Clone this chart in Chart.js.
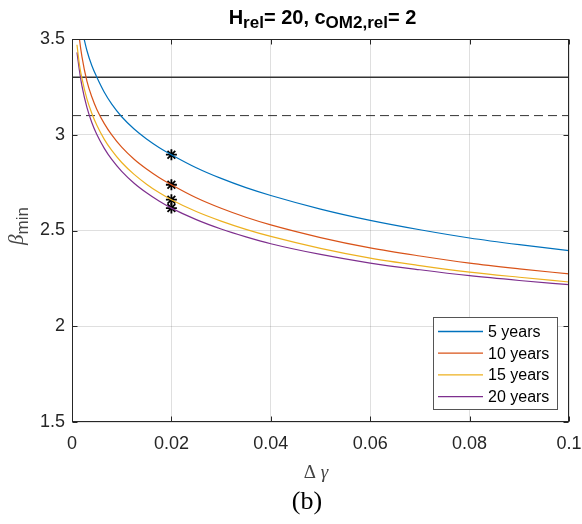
<!DOCTYPE html>
<html><head><meta charset="utf-8">
<script src="https://cdn.jsdelivr.net/npm/chart.js@4/dist/chart.umd.min.js"></script>
<style>html,body{margin:0;padding:0;background:#fff;}#wrap{position:relative;width:582px;height:524px;}</style>
</head><body><div id="wrap"><canvas id="c" width="582" height="524"></canvas></div>
<script>
// ---- data ----
const dGamma  = [0.001,0.0015,0.002,0.003,0.004,0.005,0.0065,0.008,0.01,0.0125,0.015,0.0175,0.02,0.025,0.03,0.035,0.04,0.05,0.06,0.07,0.08,0.09,0.1];
const beta5y  = [null,null,3.55,3.44,3.36,3.30,3.222,3.160,3.094,3.030,2.978,2.934,2.896,2.828,2.772,2.724,2.683,2.612,2.553,2.504,2.461,2.426,2.395];
const beta10y = [3.63,3.50,3.408,3.280,3.197,3.132,3.058,2.999,2.935,2.872,2.821,2.777,2.739,2.671,2.616,2.569,2.529,2.463,2.409,2.367,2.330,2.300,2.273];
const beta15y = [3.47,3.365,3.294,3.187,3.111,3.049,2.976,2.918,2.855,2.793,2.742,2.698,2.661,2.599,2.549,2.506,2.469,2.407,2.356,2.317,2.283,2.256,2.231];
const beta20y = [3.43,3.335,3.255,3.143,3.063,3.001,2.929,2.871,2.809,2.747,2.697,2.654,2.617,2.557,2.508,2.467,2.431,2.375,2.330,2.295,2.264,2.239,2.217];
const seriesLabels = ['5 years','10 years','15 years','20 years'];
const markerX = 0.02;
const markerBeta = [2.896, 2.739, 2.661, 2.617];
const solidLevel = 3.3;
const dashedLevel = 3.1;
const xTicks = [0,0.02,0.04,0.06,0.08,0.1];
const xTickLabels = ['0','0.02','0.04','0.06','0.08','0.1'];
const yTicks = [1.5,2,2.5,3,3.5];
const yTickLabels = ['1.5','2','2.5','3','3.5'];

// ---- styling ----
const colors = ['#0072BD','#D95319','#EDB120','#7E2F8E'];
const SANS = '"Liberation Sans", Arial, Helvetica, sans-serif';
const SERIF = '"Liberation Serif", "Times New Roman", serif';
const AXC = '#262626';

const series = [beta5y,beta10y,beta15y,beta20y];
const datasets = series.map((vals,k)=>({
  label: seriesLabels[k],
  data: dGamma.map((x,i)=>({x:x,y:vals[i]})).filter(p=>p.y!==null),
  borderColor: colors[k], backgroundColor: colors[k],
  borderWidth: 1.2, pointRadius: 0, cubicInterpolationMode: 'monotone', fill:false
}));
datasets.push({label:'solid', data:[{x:xTicks[0],y:solidLevel},{x:xTicks[xTicks.length-1],y:solidLevel}],
  borderColor:'#333', borderWidth:1.4, pointRadius:0, fill:false});
datasets.push({label:'dashed', data:[{x:xTicks[0],y:dashedLevel},{x:xTicks[xTicks.length-1],y:dashedLevel}],
  borderColor:'#333', borderWidth:1, borderDash:[9,5], pointRadius:0, fill:false});
datasets.push({label:'markers', data:markerBeta.map(y=>({x:markerX,y:y})), showLine:false,
  pointStyle:'star', pointRadius:5.5, borderColor:'#000', backgroundColor:'#000', pointBorderWidth:1.8, borderWidth:1.8});

function drawRich(ctx, parts, cx, baseline){
  let w=0; parts.forEach(p=>{ctx.font=p.f; p.w=ctx.measureText(p.t).width; w+=p.w;});
  let x=cx-w/2;
  parts.forEach(p=>{ctx.font=p.f; ctx.fillText(p.t,x,baseline+(p.dy||0)); x+=p.w;});
}

const decor = {
  id:'decor',
  afterDraw(chart){
    const ctx=chart.ctx, a=chart.chartArea, xs=chart.scales.x, ys=chart.scales.y;
    ctx.save();
    // box
    ctx.strokeStyle=AXC; ctx.lineWidth=1;
    const L0=Math.round(a.left)+0.5, R0=Math.round(a.right)-0.5, T0=Math.round(a.top)+0.5, B0=Math.round(a.bottom)-0.5;
    ctx.strokeRect(L0, T0, R0-L0, B0-T0);
    // inward ticks
    const tl=5;
    ctx.beginPath();
    xTicks.forEach(v=>{const px=Math.round(xs.getPixelForValue(v))+0.5;
      ctx.moveTo(px,B0); ctx.lineTo(px,B0-tl); ctx.moveTo(px,T0); ctx.lineTo(px,T0+tl);});
    yTicks.forEach(v=>{const py=Math.round(ys.getPixelForValue(v))+0.5;
      ctx.moveTo(L0,py); ctx.lineTo(L0+tl,py); ctx.moveTo(R0,py); ctx.lineTo(R0-tl,py);});
    ctx.stroke();

    // legend
    const L={x:a.right-136, y:a.bottom-105, w:124, h:92};
    ctx.fillStyle='#fff'; ctx.fillRect(L.x,L.y,L.w,L.h);
    ctx.strokeStyle='#555'; ctx.lineWidth=1; ctx.strokeRect(L.x+0.5,L.y+0.5,L.w,L.h);
    ctx.font='16px '+SANS; ctx.textBaseline='middle'; ctx.textAlign='left';
    for(let k=0;k<seriesLabels.length;k++){
      const yy=L.y+14.5+k*21.7;
      ctx.strokeStyle=colors[k]; ctx.lineWidth=1.3;
      ctx.beginPath(); ctx.moveTo(L.x+5,yy); ctx.lineTo(L.x+50,yy); ctx.stroke();
      ctx.fillStyle='#000'; ctx.fillText(seriesLabels[k], L.x+55, yy+1);
    }

    // title
    ctx.fillStyle='#000'; ctx.textBaseline='alphabetic'; ctx.textAlign='left';
    const B='bold 20px '+SANS, S='bold 17px '+SANS;
    drawRich(ctx,[{t:'H',f:B},{t:'rel',f:S,dy:4},{t:'= 20, c',f:B},{t:'OM2,rel',f:S,dy:4},{t:'= 2',f:B}], (a.left+a.right)/2+2, 24);

    // y label: beta_min rotated
    ctx.save(); ctx.translate(29,226); ctx.rotate(-Math.PI/2);
    ctx.fillStyle='#444';
    drawRich(ctx,[{t:'β',f:'italic 21px '+SERIF},{t:'min',f:'17px '+SANS,dy:5}],0,-6);
    ctx.restore();

    // x label
    ctx.fillStyle='#444';
    drawRich(ctx,[{t:'Δ ',f:'19px '+SERIF},{t:'γ',f:'italic 19px '+SERIF}], 316, 478);

    // (b)
    ctx.fillStyle='#000';
    drawRich(ctx,[{t:'(b)',f:'26px '+SERIF}], 307, 509);
    ctx.restore();
  }
};

function noPad(s){ s.paddingLeft=0; s.paddingRight=0; s.paddingTop=0; s.paddingBottom=0; }

new Chart(document.getElementById('c'),{
  type:'line',
  data:{datasets:datasets},
  options:{
    responsive:false, animation:false, devicePixelRatio:1,
    layout:{padding:{top:39,right:13,bottom:0,left:0}},
    plugins:{legend:{display:false},title:{display:false},tooltip:{enabled:false}},
    elements:{line:{tension:0}},
    scales:{
      x:{type:'linear',min:xTicks[0],max:xTicks[xTicks.length-1],
        afterBuildTicks:s=>{s.ticks=xTicks.map(v=>({value:v}));},
        afterFit:s=>{s.height=102; noPad(s);},
        ticks:{callback:(v,i)=>xTickLabels[i],font:{family:SANS,size:18},color:AXC,padding:11,maxRotation:0,autoSkip:false},
        grid:{color:'rgba(38,38,38,0.15)',drawTicks:false,lineWidth:1},border:{display:false}},
      y:{type:'linear',min:yTicks[0],max:yTicks[yTicks.length-1],
        afterBuildTicks:s=>{s.ticks=yTicks.map(v=>({value:v}));},
        afterFit:s=>{s.width=72; noPad(s);},
        ticks:{callback:(v,i)=>yTickLabels[i],font:{family:SANS,size:18},color:AXC,padding:7},
        grid:{color:'rgba(38,38,38,0.15)',drawTicks:false,lineWidth:1},border:{display:false}}
    }
  },
  plugins:[decor]
});
</script></body></html>
